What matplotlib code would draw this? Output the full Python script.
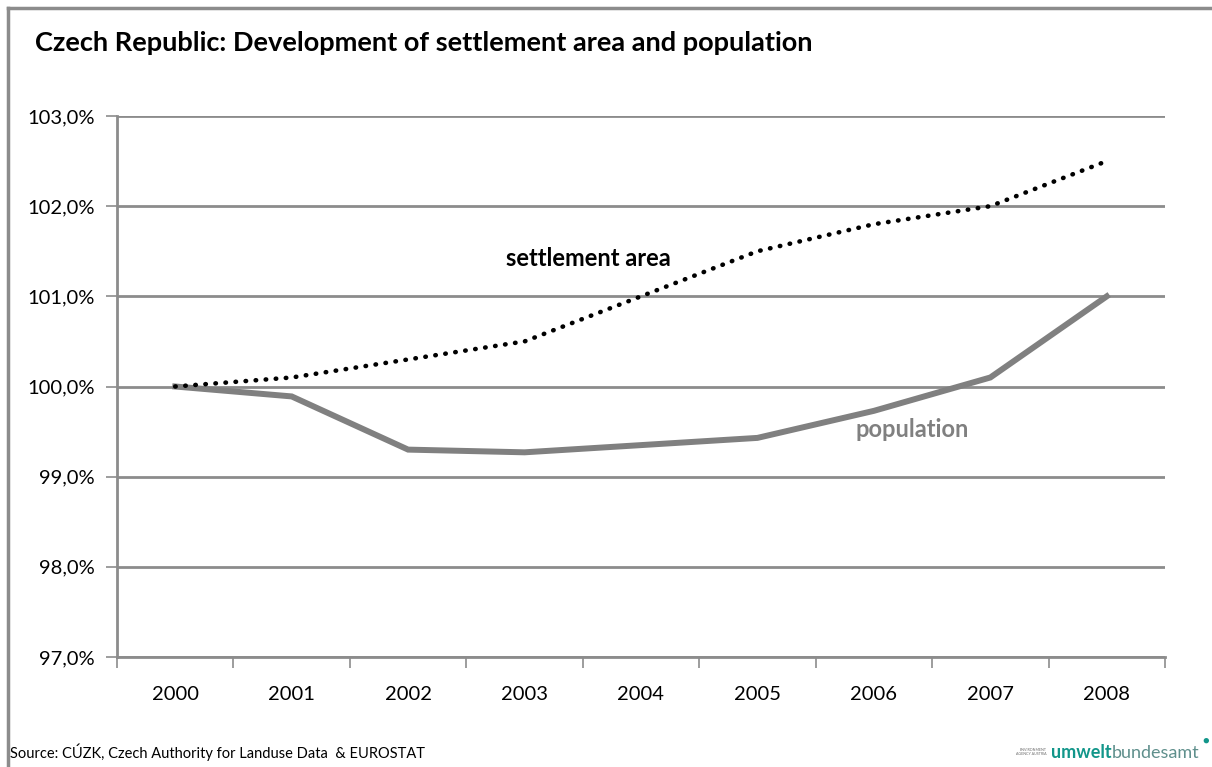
import matplotlib
matplotlib.use("Agg")
import matplotlib.pyplot as plt
from matplotlib.lines import Line2D
from matplotlib.text import Annotation
from matplotlib.ticker import FuncFormatter, MultipleLocator

years = ["2000", "2001", "2002", "2003", "2004", "2005", "2006", "2007", "2008"]
settlement_area = [100.0, 100.1, 100.3, 100.5, 101.0, 101.5, 101.8, 102.0, 102.5]
population = [100.0, 99.89, 99.30, 99.27, 99.35, 99.43, 99.73, 100.10, 101.0]

title = "Czech Republic: Development of settlement area and population"
source = "Source: CÚZK, Czech Authority for Landuse Data  & EUROSTAT"

plt.rcParams['font.family'] = ['Lato', 'DejaVu Sans']

W, H = 1212, 767
fig = plt.figure(figsize=(W / 100, H / 100), dpi=100)
fig.patch.set_facecolor("white")

frame_c = "#8c8c8c"
# outer frame: top and left edges
fig.add_artist(Line2D([8 / W, 1.0], [1 - 8 / H, 1 - 8 / H], transform=fig.transFigure,
                      color=frame_c, linewidth=2.5))
fig.add_artist(Line2D([8 / W, 8 / W], [0, 1 - 8 / H], transform=fig.transFigure,
                      color=frame_c, linewidth=2.5))

ax = fig.add_axes([117 / W, 1 - 657 / H, (1165 - 117) / W, (657 - 116) / H])
x = list(range(len(years)))
grid_c = "#8c8c8c"

ax.plot(x, population, color="#808080", linewidth=4.3, solid_joinstyle="miter", zorder=3)
ax.plot(x, settlement_area, color="black", linewidth=3.3,
        linestyle=(0, (0.1, 2.1)), dash_capstyle="round", zorder=4)

ax.set_xlim(-0.5, len(years) - 0.5)
ax.set_ylim(97, 103)
ax.yaxis.set_major_locator(MultipleLocator(1))
ax.yaxis.set_major_formatter(FuncFormatter(lambda v, p: f"{v:.1f}%".replace(".", ",")))
ax.grid(axis="y", color=grid_c, linewidth=2)
ax.set_axisbelow(True)

ax.set_xticks([i - 0.5 for i in range(len(years) + 1)])
ax.set_xticklabels([])
ax.set_xticks(x, minor=True)
ax.set_xticklabels(years, minor=True)
ax.tick_params(axis="x", which="minor", length=0, pad=21, labelsize=14.5)
ax.tick_params(axis="x", which="major", length=8, width=1.2, color=grid_c, direction="out")
ax.tick_params(axis="y", length=8, width=1.2, color=grid_c, direction="out", pad=8, labelsize=14.5)

for s in ["top", "right"]:
    ax.spines[s].set_visible(False)
for s in ["left", "bottom"]:
    ax.spines[s].set_color(grid_c)
    ax.spines[s].set_linewidth(2)

ax.text(3.55, 101.42, "settlement area", fontsize=17, fontweight="bold",
        color="black", ha="center", va="center")
ax.text(6.33, 99.52, "population", fontsize=17, fontweight="bold",
        color="#808080", ha="center", va="center")

fig.text(35 / W, 1 - 43 / H, title, fontsize=19.5, fontweight="bold",
         ha="left", va="center")
fig.text(10 / W, 1 - 752 / H, source, fontsize=10.5, ha="left", va="center")

# logo
t2 = fig.text(1199 / W, 1 - 758 / H, "bundesamt", fontsize=13, color="#5f8f8c",
              ha="right", va="baseline")
t1 = fig.add_artist(Annotation("umwelt", xy=(0, 0), xycoords=t2, xytext=(0, 0),
                               textcoords="offset points", fontsize=13,
                               color="#12968a", fontweight="bold",
                               ha="right", va="bottom"))
t0 = fig.add_artist(Annotation("ENVIRONMENT\nAGENCY AUSTRIA", xy=(0, 0.3), xycoords=t1,
                               xytext=(-3, 0), textcoords="offset points", fontsize=2.6,
                               color="#6a6a6a", ha="right", va="bottom", linespacing=1.1))
fig.text(1206 / W, 1 - 740 / H, "●", fontsize=8, color="#12968a",
         ha="center", va="center")

fig.savefig("out.png", dpi=100, facecolor="white")
